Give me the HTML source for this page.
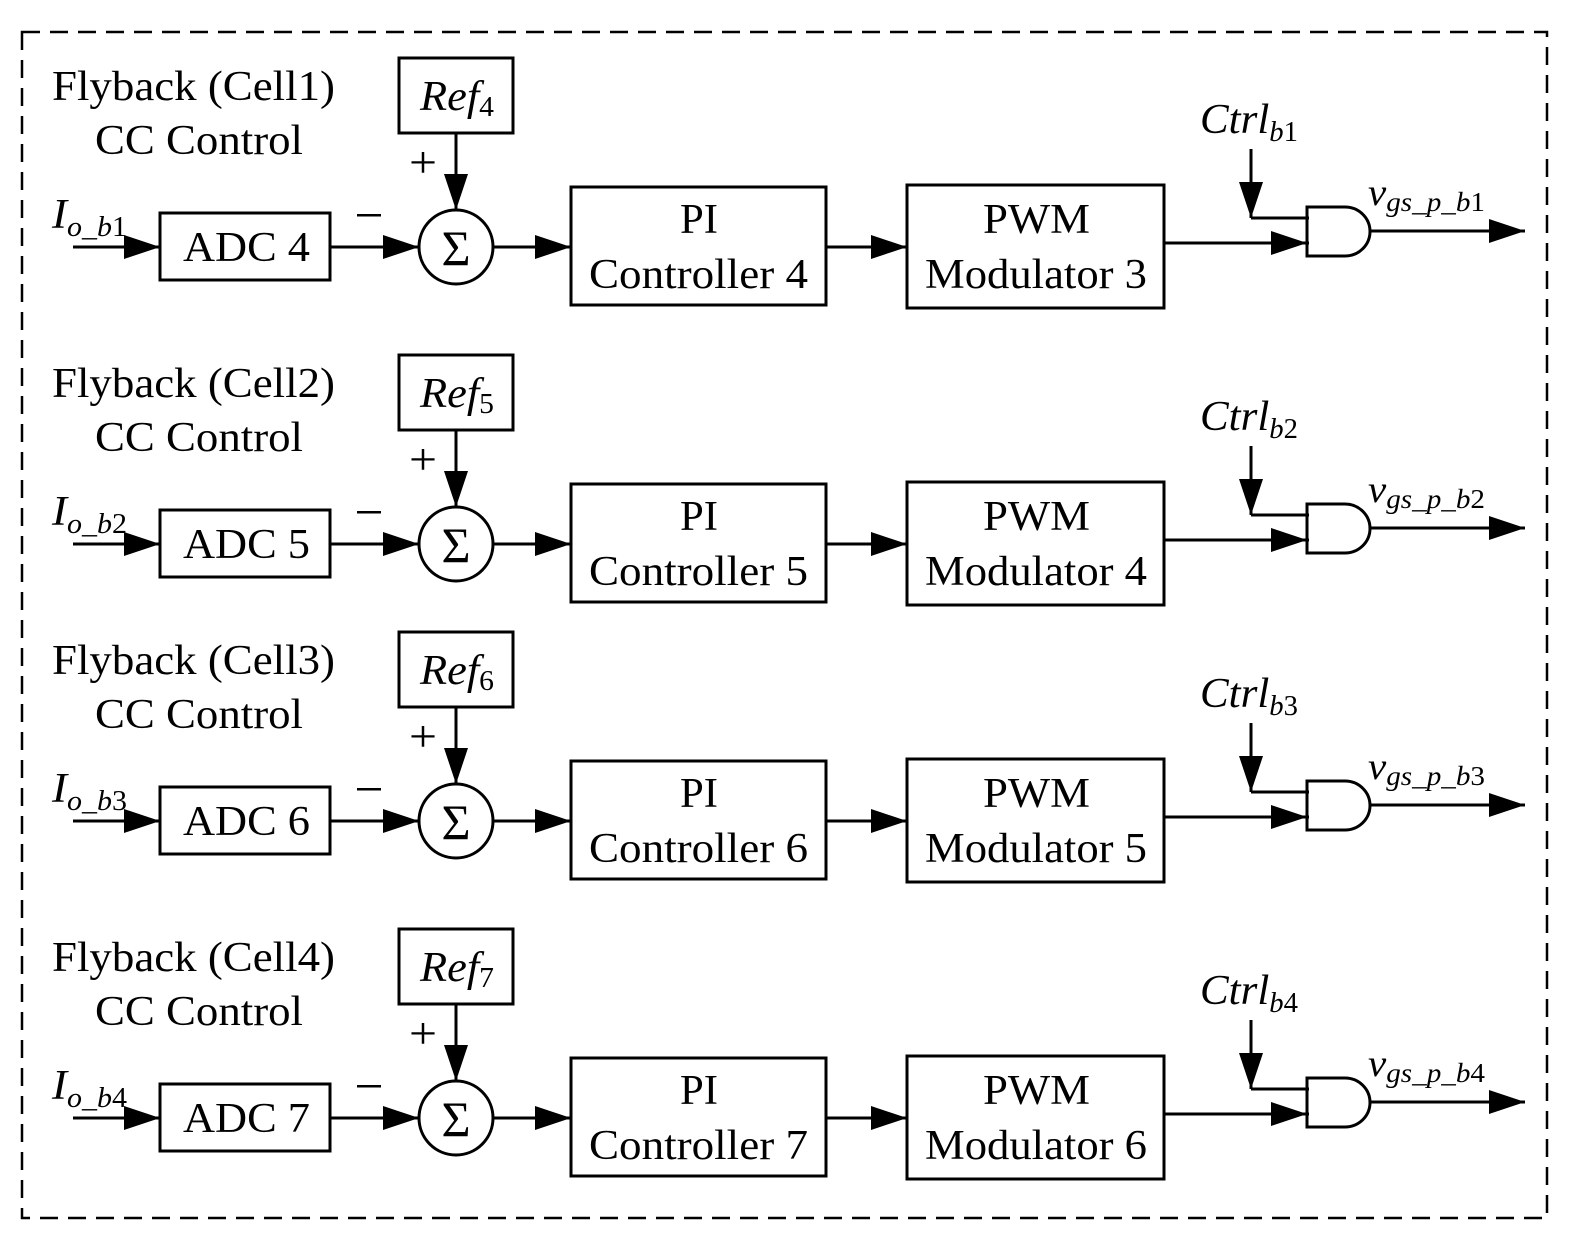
<!DOCTYPE html>
<html><head><meta charset="utf-8"><style>
html,body{margin:0;padding:0;background:#fff;}
svg{display:block;}
text{font-family:"Liberation Serif",serif;fill:#000;}
</style></head><body>
<svg width="1572" height="1248" viewBox="0 0 1572 1248" xmlns="http://www.w3.org/2000/svg">
<defs>
<g id="row" stroke="#000" stroke-width="3" fill="none">
<rect x="399" y="58" width="114" height="75"/>
<line x1="456" y1="133" x2="456" y2="210"/>
<path d="M444,174 L456,210 L468,174 Z" fill="#000" stroke="none"/>
<circle cx="456" cy="247" r="37"/>
<rect x="160" y="213" width="170" height="67"/>
<line x1="73" y1="247" x2="160" y2="247"/>
<path d="M124,235 L160,247 L124,259 Z" fill="#000" stroke="none"/>
<line x1="330" y1="247" x2="419" y2="247"/>
<path d="M383,235 L419,247 L383,259 Z" fill="#000" stroke="none"/>
<line x1="493" y1="247" x2="571" y2="247"/>
<path d="M535,235 L571,247 L535,259 Z" fill="#000" stroke="none"/>
<rect x="571" y="187" width="255" height="118"/>
<line x1="826" y1="247" x2="907" y2="247"/>
<path d="M871,235 L907,247 L871,259 Z" fill="#000" stroke="none"/>
<rect x="907" y="185" width="257" height="123"/>
<line x1="1164" y1="243" x2="1309" y2="243"/>
<path d="M1271,231 L1307,243 L1271,255 Z" fill="#000" stroke="none"/>
<line x1="1251" y1="149" x2="1251" y2="218"/>
<path d="M1239,182 L1251,218 L1263,182 Z" fill="#000" stroke="none"/>
<line x1="1251" y1="218" x2="1309" y2="218"/>
<path d="M1307,207 L1345,207 A25,24.5 0 0 1 1345,256 L1307,256 Z"/>
<line x1="1370" y1="231" x2="1525" y2="231"/>
<path d="M1489,219 L1525,231 L1489,243 Z" fill="#000" stroke="none"/>
<path d="M423,227 L451,227" stroke-width="0"/>
</g>
<g id="signs">
<text x="409" y="177" font-size="44" textLength="28" lengthAdjust="spacingAndGlyphs">+</text>
<rect x="357" y="214" width="24" height="2.5" fill="#000"/>
<text x="456" y="265" font-size="50" text-anchor="middle">Σ</text>
</g>
</defs>
<rect x="22" y="32" width="1525" height="1186" fill="none" stroke="#000" stroke-width="2.5" stroke-dasharray="18,10"/>

<g>
<use href="#row"/><use href="#signs"/>
<text x="52" y="100" font-size="42" textLength="283" lengthAdjust="spacingAndGlyphs">Flyback (Cell1)</text>
<text x="95" y="154" font-size="42" textLength="208" lengthAdjust="spacingAndGlyphs">CC Control</text>
<text x="420" y="110" font-size="42" font-style="italic" textLength="74" lengthAdjust="spacingAndGlyphs">Ref<tspan font-size="28" font-style="normal" dy="6">4</tspan></text>
<text x="52" y="228" font-size="42" font-style="italic" textLength="75" lengthAdjust="spacingAndGlyphs">I<tspan font-size="28" dy="8">o_b</tspan><tspan font-size="28" font-style="normal">1</tspan></text>
<text x="183" y="261" font-size="42" textLength="127" lengthAdjust="spacingAndGlyphs">ADC 4</text>
<text x="680" y="233" font-size="42" textLength="38" lengthAdjust="spacingAndGlyphs">PI</text>
<text x="589" y="288" font-size="42" textLength="219" lengthAdjust="spacingAndGlyphs">Controller 4</text>
<text x="983" y="233" font-size="42" textLength="107" lengthAdjust="spacingAndGlyphs">PWM</text>
<text x="925" y="288" font-size="42" textLength="222" lengthAdjust="spacingAndGlyphs">Modulator 3</text>
<text x="1200" y="133" font-size="42" font-style="italic" textLength="98" lengthAdjust="spacingAndGlyphs">Ctrl<tspan font-size="28" dy="8">b</tspan><tspan font-size="28" font-style="normal">1</tspan></text>
<text x="1368" y="205" font-size="38" font-style="italic" textLength="117" lengthAdjust="spacingAndGlyphs">v<tspan font-size="27" dy="6">gs_p_b</tspan><tspan font-size="27" font-style="normal">1</tspan></text>
</g>

<g transform="translate(0,297)">
<use href="#row"/><use href="#signs"/>
<text x="52" y="100" font-size="42" textLength="283" lengthAdjust="spacingAndGlyphs">Flyback (Cell2)</text>
<text x="95" y="154" font-size="42" textLength="208" lengthAdjust="spacingAndGlyphs">CC Control</text>
<text x="420" y="110" font-size="42" font-style="italic" textLength="74" lengthAdjust="spacingAndGlyphs">Ref<tspan font-size="28" font-style="normal" dy="6">5</tspan></text>
<text x="52" y="228" font-size="42" font-style="italic" textLength="75" lengthAdjust="spacingAndGlyphs">I<tspan font-size="28" dy="8">o_b</tspan><tspan font-size="28" font-style="normal">2</tspan></text>
<text x="183" y="261" font-size="42" textLength="127" lengthAdjust="spacingAndGlyphs">ADC 5</text>
<text x="680" y="233" font-size="42" textLength="38" lengthAdjust="spacingAndGlyphs">PI</text>
<text x="589" y="288" font-size="42" textLength="219" lengthAdjust="spacingAndGlyphs">Controller 5</text>
<text x="983" y="233" font-size="42" textLength="107" lengthAdjust="spacingAndGlyphs">PWM</text>
<text x="925" y="288" font-size="42" textLength="222" lengthAdjust="spacingAndGlyphs">Modulator 4</text>
<text x="1200" y="133" font-size="42" font-style="italic" textLength="98" lengthAdjust="spacingAndGlyphs">Ctrl<tspan font-size="28" dy="8">b</tspan><tspan font-size="28" font-style="normal">2</tspan></text>
<text x="1368" y="205" font-size="38" font-style="italic" textLength="117" lengthAdjust="spacingAndGlyphs">v<tspan font-size="27" dy="6">gs_p_b</tspan><tspan font-size="27" font-style="normal">2</tspan></text>
</g>

<g transform="translate(0,574)">
<use href="#row"/><use href="#signs"/>
<text x="52" y="100" font-size="42" textLength="283" lengthAdjust="spacingAndGlyphs">Flyback (Cell3)</text>
<text x="95" y="154" font-size="42" textLength="208" lengthAdjust="spacingAndGlyphs">CC Control</text>
<text x="420" y="110" font-size="42" font-style="italic" textLength="74" lengthAdjust="spacingAndGlyphs">Ref<tspan font-size="28" font-style="normal" dy="6">6</tspan></text>
<text x="52" y="228" font-size="42" font-style="italic" textLength="75" lengthAdjust="spacingAndGlyphs">I<tspan font-size="28" dy="8">o_b</tspan><tspan font-size="28" font-style="normal">3</tspan></text>
<text x="183" y="261" font-size="42" textLength="127" lengthAdjust="spacingAndGlyphs">ADC 6</text>
<text x="680" y="233" font-size="42" textLength="38" lengthAdjust="spacingAndGlyphs">PI</text>
<text x="589" y="288" font-size="42" textLength="219" lengthAdjust="spacingAndGlyphs">Controller 6</text>
<text x="983" y="233" font-size="42" textLength="107" lengthAdjust="spacingAndGlyphs">PWM</text>
<text x="925" y="288" font-size="42" textLength="222" lengthAdjust="spacingAndGlyphs">Modulator 5</text>
<text x="1200" y="133" font-size="42" font-style="italic" textLength="98" lengthAdjust="spacingAndGlyphs">Ctrl<tspan font-size="28" dy="8">b</tspan><tspan font-size="28" font-style="normal">3</tspan></text>
<text x="1368" y="205" font-size="38" font-style="italic" textLength="117" lengthAdjust="spacingAndGlyphs">v<tspan font-size="27" dy="6">gs_p_b</tspan><tspan font-size="27" font-style="normal">3</tspan></text>
</g>

<g transform="translate(0,871)">
<use href="#row"/><use href="#signs"/>
<text x="52" y="100" font-size="42" textLength="283" lengthAdjust="spacingAndGlyphs">Flyback (Cell4)</text>
<text x="95" y="154" font-size="42" textLength="208" lengthAdjust="spacingAndGlyphs">CC Control</text>
<text x="420" y="110" font-size="42" font-style="italic" textLength="74" lengthAdjust="spacingAndGlyphs">Ref<tspan font-size="28" font-style="normal" dy="6">7</tspan></text>
<text x="52" y="228" font-size="42" font-style="italic" textLength="75" lengthAdjust="spacingAndGlyphs">I<tspan font-size="28" dy="8">o_b</tspan><tspan font-size="28" font-style="normal">4</tspan></text>
<text x="183" y="261" font-size="42" textLength="127" lengthAdjust="spacingAndGlyphs">ADC 7</text>
<text x="680" y="233" font-size="42" textLength="38" lengthAdjust="spacingAndGlyphs">PI</text>
<text x="589" y="288" font-size="42" textLength="219" lengthAdjust="spacingAndGlyphs">Controller 7</text>
<text x="983" y="233" font-size="42" textLength="107" lengthAdjust="spacingAndGlyphs">PWM</text>
<text x="925" y="288" font-size="42" textLength="222" lengthAdjust="spacingAndGlyphs">Modulator 6</text>
<text x="1200" y="133" font-size="42" font-style="italic" textLength="98" lengthAdjust="spacingAndGlyphs">Ctrl<tspan font-size="28" dy="8">b</tspan><tspan font-size="28" font-style="normal">4</tspan></text>
<text x="1368" y="205" font-size="38" font-style="italic" textLength="117" lengthAdjust="spacingAndGlyphs">v<tspan font-size="27" dy="6">gs_p_b</tspan><tspan font-size="27" font-style="normal">4</tspan></text>
</g>
</svg>
</body></html>
